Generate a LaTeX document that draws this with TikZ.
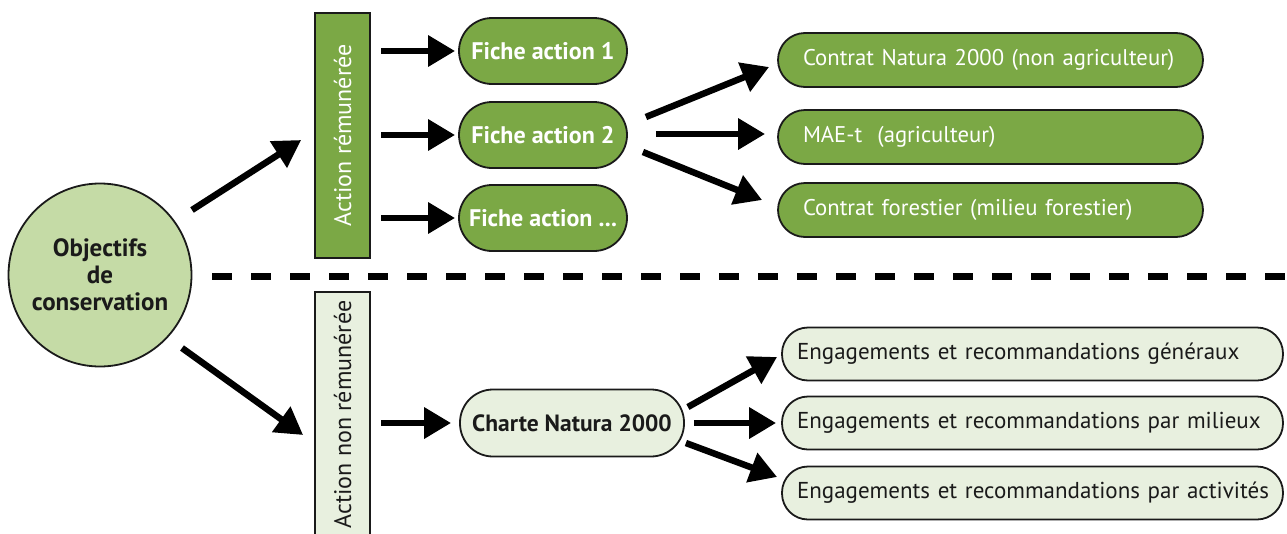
\documentclass[tikz,border=0pt]{standalone}
\usepackage{fontspec}
\setmainfont{PT Sans}
\usetikzlibrary{arrows.meta,calc}
\definecolor{dg}{HTML}{7BA845}
\definecolor{lg}{HTML}{C5DBA6}
\definecolor{pg}{HTML}{E8F0DF}
\definecolor{ink}{HTML}{1A1A1A}
\newcommand{\lefttxt}[1]{\makebox[\linewidth][l]{#1}}
\begin{document}
\begin{tikzpicture}[x=1pt,y=-1pt,
  arr/.style={line width=6.5pt, draw=black, -{Triangle[length=27pt,width=30pt]}},
  bord/.style={draw=ink, line width=1.8pt},
  darkpill/.style={bord, fill=dg, rounded corners=26pt, text=white, inner sep=0pt},
  lightpill/.style={bord, fill=pg, rounded corners=26pt, text=ink, inner sep=0pt},
  fiche/.style={darkpill, minimum width=168pt, minimum height=66pt, rounded corners=33pt, font=\bfseries\fontsize{24}{28}\selectfont},
  contrat/.style={darkpill, minimum width=425pt, minimum height=54pt, rounded corners=27pt, font=\fontsize{22.7}{26}\selectfont, text width=375pt, align=left},
  engag/.style={lightpill, minimum width=501pt, minimum height=53pt, rounded corners=26pt, font=\fontsize{23}{27}\selectfont, text width=471pt, align=left},
  vtext/.style={rotate=90, font=\fontsize{24}{28}\selectfont, inner sep=0pt}
]
\useasboundingbox[fill=white] (0,0) rectangle (1287,533);

% central circle
\node[circle, bord, fill=lg, minimum size=183pt, inner sep=0pt, align=center,
      font=\bfseries\fontsize{25}{27}\selectfont, text=ink] (obj) at (100,275) {Objectifs\\de\\conservation};

% vertical bars
\node[rectangle, bord, fill=dg, minimum width=55pt, minimum height=245pt, inner sep=0pt] (ar) at (342.5,135.5) {};
\node[vtext, text=white] (art) at (ar.center) {Action rémunérée};
\node[rectangle, bord, fill=pg, minimum width=55pt, minimum height=245pt, inner sep=0pt] (anr) at (342.5,414.5) {};
\node[vtext, text=ink] (anrt) at (anr.center) {Action non rémunérée};

% dashed separator
\coordinate (dA) at (212,276.5);
\coordinate (dB) at (1290,276.5);
\draw[line width=7pt, dash pattern=on 20pt off 19pt] (dA) -- (dB);

% fiche action pills
\node[fiche] (f1) at (543,51) {Fiche action 1};
\node[fiche] (f2) at (543,135) {Fiche action 2};
\node[fiche] (f3) at (543,218) {Fiche action ...};

% contrat pills
\node[contrat] (c1) at (990.5,60) {\lefttxt{Contrat Natura 2000 (non agriculteur)}};
\node[contrat] (c2) at (990.5,137) {\lefttxt{MAE-t\ \ (agriculteur)}};
\node[contrat] (c3) at (990.5,210) {\lefttxt{Contrat forestier (milieu forestier)}};

% charte
\node[lightpill, minimum width=224pt, minimum height=67pt, rounded corners=33pt,
      font=\bfseries\fontsize{23.5}{27}\selectfont] (ch) at (572,423) {Charte Natura 2000};

% engagements pills
\node[engag] (e1) at (1032.5,354) {\lefttxt{Engagements et recommandations généraux}};
\node[engag] (e2) at (1032.5,423) {\lefttxt{Engagements et recommandations par milieux}};
\node[engag] (e3) at (1032.5,493) {\lefttxt{Engagements et recommandations par activités}};

% arrows from circle
\draw[arr] ($(obj.center)+(92,-65)$) -- ($(ar.west)+(-13,4.5)$);
\draw[arr] ($(obj.center)+(82,73)$) -- ($(anr.west)+(-11,20.5)$);

% arrows to fiches
\draw[arr] ($(f1.west)+(-77,0)$) -- ($(f1.west)+(-3,0)$);
\draw[arr] ($(f2.west)+(-77,0)$) -- ($(f2.west)+(-3,0)$);
\draw[arr] ($(f3.west)+(-77,0)$) -- ($(f3.west)+(-3,0)$);

% arrows fiche 2 -> contrats
\draw[arr] ($(f2.east)+(18,-18)$) -- ($(c1.west)+(-8,7)$);
\draw[arr] ($(f2.east)+(28,-1)$) -- ($(c2.west)+(-12,-3)$);
\draw[arr] ($(f2.east)+(15,17)$) -- ($(c3.west)+(-15,-10)$);

% arrow to charte
\draw[arr] ($(ch.west)+(-78,0)$) -- ($(ch.west)+(-8,0)$);

% arrows charte -> engagements
\draw[arr] ($(ch.east)+(3,-16)$) -- ($(e1.west)+(-4,3)$);
\draw[arr] ($(ch.east)+(9,0)$) -- ($(e2.west)+(-5,0)$);
\draw[arr] ($(ch.east)+(1,20)$) -- ($(e3.west)+(-4,-16)$);
\end{tikzpicture}
\end{document}
